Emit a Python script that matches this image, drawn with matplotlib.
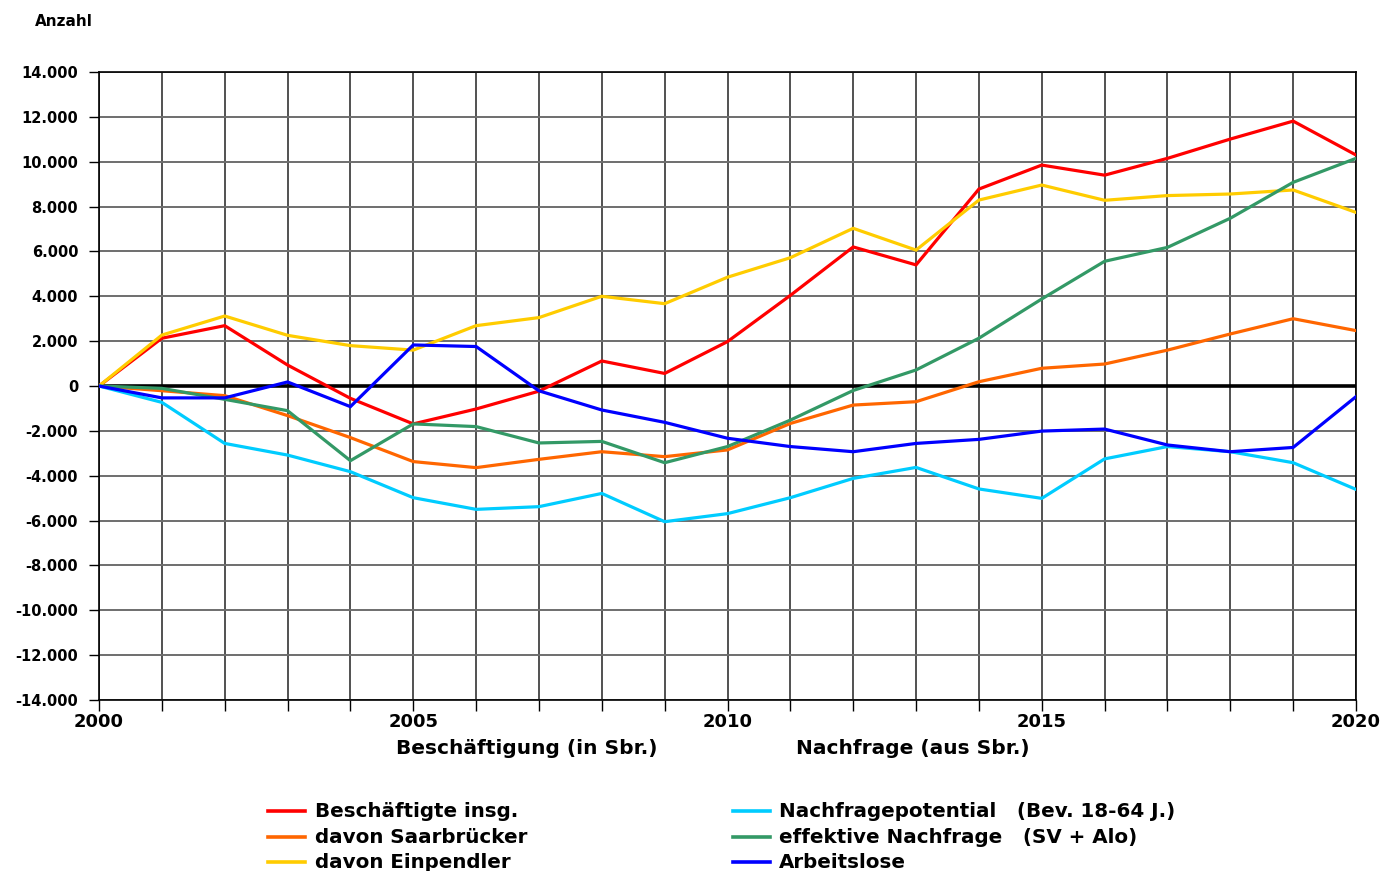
import matplotlib
matplotlib.use("Agg")
import matplotlib.pyplot as plt
from matplotlib.lines import Line2D
from matplotlib.ticker import MultipleLocator, FuncFormatter

plt.rcParams['font.family'] = ['DejaVu Sans']

years = list(range(2000, 2021))

beschaeftigte = [0, 2130, 2690, 935, -550, -1690, -1025, -230, 1115, 560, 1980,
                 4040, 6200, 5400, 8780, 9850, 9400, 10150, 11010, 11810, 10300]
saarbruecker = [0, -210, -430, -1320, -2300, -3370, -3640, -3270, -2930, -3150, -2850,
                -1670, -850, -700, 190, 790, 980, 1600, 2320, 3000, 2470]
einpendler = [0, 2270, 3120, 2260, 1800, 1600, 2690, 3050, 4000, 3670, 4850,
              5720, 7030, 6060, 8290, 8960, 8280, 8490, 8560, 8740, 7740]
potential = [0, -730, -2560, -3080, -3820, -4980, -5500, -5380, -4790, -6050, -5690,
             -4980, -4120, -3630, -4590, -5010, -3250, -2700, -2930, -3420, -4610]
effektiv = [0, -105, -595, -1100, -3330, -1690, -1810, -2540, -2470, -3420, -2700,
            -1520, -200, 715, 2130, 3880, 5560, 6180, 7480, 9080, 10150]
arbeitslose = [0, -530, -530, 180, -920, 1830, 1760, -215, -1070, -1620, -2330,
               -2700, -2930, -2560, -2380, -2010, -1920, -2630, -2930, -2740, -475]

labels = ["Beschäftigte insg.", "davon Saarbrücker", "davon Einpendler",
          "Nachfragepotential   (Bev. 18-64 J.)", "effektive Nachfrage   (SV + Alo)",
          "Arbeitslose"]
colors = ["#FF0000", "#FF6600", "#FFCC00", "#00CCFF", "#339966", "#0000FF"]
series = [beschaeftigte, saarbruecker, einpendler, potential, effektiv, arbeitslose]

W, H = 1386, 871
fig = plt.figure(figsize=(W / 100, H / 100), dpi=100)
ax = fig.add_axes([99 / W, 1 - 700 / H, (1356 - 99) / W, (700 - 72) / H])

ax.set_xlim(2000, 2020)
ax.set_ylim(-14000, 14000)
ax.xaxis.set_major_locator(MultipleLocator(5))
ax.xaxis.set_minor_locator(MultipleLocator(1))
ax.yaxis.set_major_locator(MultipleLocator(2000))
ax.yaxis.set_major_formatter(FuncFormatter(lambda v, p: f"{int(v):,}".replace(",", ".")))

ax.grid(True, which='both', axis='x', color='#222222', linewidth=1.1)
ax.grid(True, which='major', axis='y', color='#6e6e6e', linewidth=1.4)
ax.set_axisbelow(True)
ax.axhline(0, color='black', linewidth=2.6, zorder=3)

for vals, c, lab in zip(series, colors, labels):
    ax.plot(years, vals, color=c, linewidth=2.3, label=lab, zorder=4, solid_joinstyle='miter')

for s in ax.spines.values():
    s.set_color('black')
    s.set_linewidth(1.2)

ax.tick_params(axis='x', which='both', direction='out', length=8, width=1, color='black', pad=1.5)
ax.tick_params(axis='y', direction='out', length=7, width=1, pad=8)
for t in ax.get_xticklabels():
    t.set_fontsize(13)
    t.set_fontweight('bold')
for t in ax.get_yticklabels():
    t.set_fontsize(10.5)
    t.set_fontweight('bold')

fig.text(35 / W, 1 - 22 / H, "Anzahl", fontsize=11, fontweight='bold', va='center', ha='left')
fig.text(527 / W, 1 - 748 / H, "Beschäftigung (in Sbr.)", fontsize=14.5, fontweight='bold',
         va='center', ha='center')
fig.text(913 / W, 1 - 748 / H, "Nachfrage (aus Sbr.)", fontsize=14.5, fontweight='bold',
         va='center', ha='center')

# legend (two columns)
rows_y = [811, 837, 862]
col_x = [(268, 305, 315), (733, 770, 779)]
for i, (lab, c) in enumerate(zip(labels, colors)):
    col = i // 3
    row = i % 3
    x0, x1, xt = col_x[col]
    y = 1 - rows_y[row] / H
    fig.add_artist(Line2D([x0 / W, x1 / W], [y, y], color=c, linewidth=2.6,
                          transform=fig.transFigure))
    fig.text(xt / W, y, lab, fontsize=14.3, fontweight='bold', va='center', ha='left')

fig.savefig("out.png", dpi=100)
